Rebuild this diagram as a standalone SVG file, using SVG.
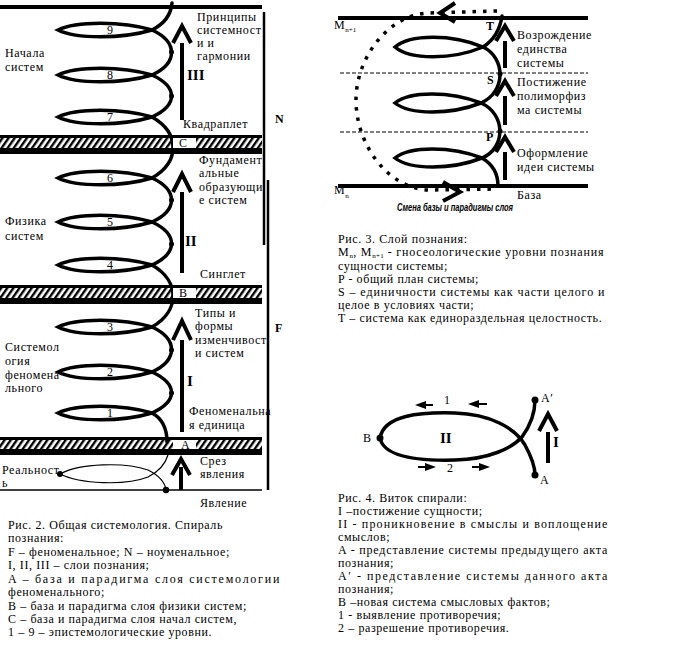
<svg xmlns="http://www.w3.org/2000/svg" width="679" height="649" viewBox="0 0 679 649">
<defs>
<style>
.s{fill:none;stroke:#000;stroke-width:3.5;stroke-linecap:round}
.thin{fill:none;stroke:#000;stroke-width:1.2}
.ln{stroke:#000;fill:none}
.ar{fill:none;stroke:#000;stroke-width:4}
.t{font-family:"Liberation Serif","Times New Roman",serif;font-size:12px;letter-spacing:0.6px;fill:#000}
.b{font-family:"Liberation Serif",serif;font-weight:bold;font-size:15px;fill:#000}
.lb{font-family:"Liberation Serif",serif;font-weight:bold;font-size:12px;fill:#000}
.n{font-family:"Liberation Serif",serif;font-size:12px;fill:#000;text-anchor:middle}
.dash{stroke:#000;stroke-width:1;stroke-dasharray:4 2}
.dots{fill:none;stroke:#000;stroke-width:3.5;stroke-dasharray:3.5 7}
</style>
<pattern id="hatch" width="5" height="5" patternUnits="userSpaceOnUse" patternTransform="rotate(35)">
<rect width="2.4" height="5" fill="#000"/>
</pattern>
</defs>

<!-- ===== Figure 2 ===== -->
<g id="fig2-frame">
<line class="ln" x1="0" y1="7" x2="262" y2="7" stroke-width="4"/>
<line class="ln" x1="0" y1="490" x2="262" y2="490" stroke-width="1.5"/>
<line class="ln" x1="264" y1="12" x2="264" y2="245" stroke-width="2.5"/>
<line class="ln" x1="268" y1="180" x2="268" y2="490" stroke-width="2.5"/>
<text class="lb" x="275" y="123">N</text>
<text class="lb" x="275" y="332">F</text>
</g>

<g id="spiral2">
<path class="s" d="M152,30 C164,24 171,14 172,3"/>
<path class="s" d="M152,75 C178,63 178,42 152,30"/>
<path class="s" d="M152,117 C178,105 178,87 152,75"/>
<path class="s" d="M152,178 C180,162 180,133 152,117"/>
<path class="s" d="M152,222 C178,210 178,190 152,178"/>
<path class="s" d="M152,265 C178,253 178,234 152,222"/>
<path class="s" d="M152,327 C180,311 180,281 152,265"/>
<path class="s" d="M152,372 C178,360 178,339 152,327"/>
<path class="s" d="M152,413 C178,401 178,384 152,372"/>
<path class="s" d="M152,413 C163,419 167,429 167,442"/>
<g fill="#000">
<circle cx="171.5" cy="52" r="2.5"/><circle cx="171.5" cy="96" r="2.5"/>
<circle cx="171.5" cy="200" r="2.5"/><circle cx="171.5" cy="244" r="2.5"/>
<circle cx="171.5" cy="350" r="2.5"/><circle cx="171.5" cy="393" r="2.5"/>
</g>
</g>

<g id="level9"><path class="s" d="M152,30 C122,21 76,21 58,30 C76,39 122,39 152,30"/><text class="n" x="110" y="34">9</text></g>
<g id="level8"><path class="s" d="M152,75 C122,66 76,66 58,75 C76,84 122,84 152,75"/><text class="n" x="110" y="79">8</text></g>
<g id="level7"><path class="s" d="M152,117 C122,108 76,108 58,117 C76,126 122,126 152,117"/><text class="n" x="110" y="121">7</text></g>
<g id="level6"><path class="s" d="M152,178 C122,169 76,169 58,178 C76,187 122,187 152,178"/><text class="n" x="110" y="182">6</text></g>
<g id="level5"><path class="s" d="M152,222 C122,213 76,213 58,222 C76,231 122,231 152,222"/><text class="n" x="110" y="226">5</text></g>
<g id="level4"><path class="s" d="M152,265 C122,256 76,256 58,265 C76,274 122,274 152,265"/><text class="n" x="110" y="269">4</text></g>
<g id="level3"><path class="s" d="M152,327 C122,318 76,318 58,327 C76,336 122,336 152,327"/><text class="n" x="110" y="331">3</text></g>
<g id="level2"><path class="s" d="M152,372 C122,363 76,363 58,372 C76,381 122,381 152,372"/><text class="n" x="110" y="376">2</text></g>
<g id="level1"><path class="s" d="M152,413 C122,404 76,404 58,413 C76,422 122,422 152,413"/><text class="n" x="110" y="417">1</text></g>

<g id="reality">
<path class="thin" d="M168,455 C165,465 158,472 148,477 C125,486 80,484 60,474"/>
<path class="thin" d="M60,474 C80,463 125,462 148,470 C158,475 165,482 166,490"/>
<circle cx="60" cy="474" r="3" fill="#000"/>
<circle cx="166" cy="490" r="3.2" fill="#000"/>
</g>

<g id="bandC">
<rect x="0" y="135" width="262" height="3" fill="#000"/>
<rect x="0" y="138" width="262" height="10" fill="url(#hatch)"/>
<rect x="173" y="138" width="23" height="10" fill="#fff"/>
<rect x="0" y="148" width="262" height="6" fill="#000"/>
<text class="t" x="179" y="147">C</text>
</g>
<g id="bandB">
<rect x="0" y="285" width="262" height="3" fill="#000"/>
<rect x="0" y="288" width="262" height="10" fill="url(#hatch)"/>
<rect x="173" y="288" width="23" height="10" fill="#fff"/>
<rect x="0" y="298" width="262" height="6" fill="#000"/>
<text class="t" x="179" y="297">B</text>
</g>
<g id="bandA">
<rect x="0" y="437" width="262" height="3" fill="#000"/>
<rect x="0" y="440" width="262" height="10" fill="url(#hatch)"/>
<rect x="173" y="440" width="23" height="10" fill="#fff"/>
<rect x="0" y="449" width="262" height="6" fill="#000"/>
<text class="t" x="181" y="449">A</text>
</g>

<g id="arrows2">
<line class="ar" x1="182" y1="43" x2="182" y2="120"/><polyline class="ar" points="173,43 182,26 191,43"/>
<line class="ar" x1="182" y1="192" x2="182" y2="273"/><polyline class="ar" points="173,192 182,174 191,192"/>
<line class="ar" x1="182" y1="340" x2="182" y2="432"/><polyline class="ar" points="173,340 182,321 191,340"/>
<line class="ar" x1="181" y1="467" x2="181" y2="490"/><polyline class="ar" points="172,475 181,459 190,475"/>
<text class="b" x="187" y="80">III</text>
<text class="b" x="185" y="246">II</text>
<text class="b" x="187" y="386">I</text>
</g>

<g id="labels2">
<text class="t" x="197" y="21">Принципы</text>
<text class="t" x="197" y="34">системност</text>
<text class="t" x="197" y="47">и и</text>
<text class="t" x="197" y="60">гармонии</text>
<text class="t" x="183" y="128">Квадраплет</text>
<text class="t" x="199" y="164">Фундамент</text>
<text class="t" x="199" y="177">альные</text>
<text class="t" x="199" y="191">образующи</text>
<text class="t" x="199" y="204">е систем</text>
<text class="t" x="200" y="278">Синглет</text>
<text class="t" x="195" y="317">Типы и</text>
<text class="t" x="195" y="330">формы</text>
<text class="t" x="195" y="344">изменчивост</text>
<text class="t" x="195" y="357">и систем</text>
<text class="t" x="189" y="415">Феноменальна</text>
<text class="t" x="189" y="429">я единица</text>
<text class="t" x="200" y="465">Срез</text>
<text class="t" x="200" y="478">явления</text>
<text class="t" x="200" y="507">Явление</text>
<text class="t" x="5" y="57">Начала</text>
<text class="t" x="5" y="71">систем</text>
<text class="t" x="5" y="225">Физика</text>
<text class="t" x="5" y="240">систем</text>
<text class="t" x="5" y="351">Системол</text>
<text class="t" x="5" y="365">огия</text>
<text class="t" x="5" y="379">феномена</text>
<text class="t" x="5" y="392">льного</text>
<text class="t" x="2" y="474">Реальност</text>
<text class="t" x="2" y="487">ь</text>
</g>

<g id="caption2">
<text class="t" x="8" y="529">Рис. 2. Общая системология. Спираль</text>
<text class="t" x="8" y="542">познания:</text>
<text class="t" x="8" y="556">F – феноменальное; N – ноуменальное;</text>
<text class="t" x="8" y="569">I, II, III – слои познания;</text>
<text class="t" x="8" y="583" textLength="272" lengthAdjust="spacing">A – база и парадигма слоя системологии</text>
<text class="t" x="8" y="596">феноменального;</text>
<text class="t" x="8" y="610">B – база и парадигма слоя физики систем;</text>
<text class="t" x="8" y="623">C – база и парадигма слоя начал систем,</text>
<text class="t" x="8" y="636">1 – 9 – эпистемологические уровни.</text>
</g>

<!-- ===== Figure 3 ===== -->
<g id="fig3-frame">
<line class="ln" x1="338" y1="18" x2="588" y2="18" stroke-width="4"/>
<line class="ln" x1="338" y1="186" x2="588" y2="186" stroke-width="4"/>
<line class="dash" x1="340" y1="73" x2="588" y2="73"/>
<line class="dash" x1="340" y1="132" x2="588" y2="132"/>
<text class="t" x="334" y="29">M<tspan font-size="7" dy="3" letter-spacing="0">n+1</tspan></text>
<text class="t" x="334" y="194">M<tspan font-size="7" dy="4" letter-spacing="0">n</tspan></text>
</g>

<g id="cycle3">
<path class="dots" d="M497,11 L428,13 C388,15 356,58 356,100 C356,145 388,188 428,190 L497,189"/>
<polyline class="ar" stroke-width="3" points="455,3 440,13 455,22"/>
<polyline class="ar" stroke-width="3" points="443,182 460,192 443,201"/>
<text x="455" y="211" font-family="Liberation Sans,sans-serif" font-size="10" font-style="italic" font-weight="bold" text-anchor="middle" textLength="116" lengthAdjust="spacingAndGlyphs">Смена базы и парадигмы слоя</text>
</g>

<g id="spiral3">
<path class="s" d="M483,47 C494,40 500,30 502,16"/>
<path class="s" d="M483,47 C506,58 506,92 481,103"/>
<path class="s" d="M481,103 C506,114 506,148 482,158"/>
<path class="s" d="M482,158 C494,165 498,175 498,186"/>
<path class="s" d="M483,47 C452,34 410,34 395,47 C410,60 452,60 483,47"/>
<path class="s" d="M481,103 C450,91 410,91 395,103 C410,115 450,115 481,103"/>
<path class="s" d="M482,158 C451,146 410,146 395,158 C410,170 451,170 482,158"/>
<circle cx="500" cy="74" r="2.5"/><circle cx="500" cy="131" r="2.5"/>
<text class="lb" x="486" y="30" font-size="11">T</text>
<text class="lb" x="487" y="84" font-size="11">S</text>
<text class="lb" x="486" y="141" font-size="11">P</text>
</g>

<g id="arrows3">
<line class="ar" x1="505" y1="41" x2="505" y2="68"/><polyline class="ar" points="496,41 505,26 514,41"/>
<line class="ar" x1="505" y1="96" x2="505" y2="125"/><polyline class="ar" points="496,96 505,81 514,96"/>
<line class="ar" x1="505" y1="152" x2="505" y2="180"/><polyline class="ar" points="496,152 505,137 514,152"/>
</g>

<g id="labels3">
<text class="t" x="517" y="39">Возрождение</text>
<text class="t" x="517" y="53">единства</text>
<text class="t" x="517" y="67">системы</text>
<text class="t" x="517" y="86">Постижение</text>
<text class="t" x="517" y="100">полиморфиз</text>
<text class="t" x="517" y="114">ма системы</text>
<text class="t" x="517" y="157">Оформление</text>
<text class="t" x="517" y="171">идеи системы</text>
<text class="t" x="517" y="199">База</text>
</g>

<g id="caption3">
<text class="t" x="338" y="243">Рис. 3. Слой познания:</text>
<text class="t" x="338" y="256" textLength="266" lengthAdjust="spacing">M<tspan font-size="7" dy="2" letter-spacing="0">n</tspan><tspan dy="-2">, M</tspan><tspan font-size="7" dy="2" letter-spacing="0">n+1</tspan><tspan dy="-2"> - гносеологические уровни познания</tspan></text>
<text class="t" x="338" y="270">сущности системы;</text>
<text class="t" x="338" y="283">P - общий план системы;</text>
<text class="t" x="338" y="296" textLength="267" lengthAdjust="spacing">S – единичности системы как части целого и</text>
<text class="t" x="338" y="309">целое в условиях части;</text>
<text class="t" x="338" y="322">T – система как единораздельная целостность.</text>
</g>

<!-- ===== Figure 4 ===== -->
<g id="fig4">
<path class="s" d="M380,438 C384,415 420,412 455,413 C490,414 515,428 525,445 C531,456 535,465 535,475"/>
<path class="s" d="M380,438 C384,458 420,461 455,460 C490,459 512,448 522,437 C530,426 535,412 535,400"/>
<circle cx="380" cy="438" r="3.5"/>
<circle cx="535" cy="400" r="3.5"/>
<circle cx="535" cy="475" r="3.5"/>
<text class="t" x="363" y="442">B</text>
<text class="t" x="541" y="402">A′</text>
<text class="t" x="540" y="484">A</text>
<text class="b" x="440" y="443">II</text>
<text class="t" x="444" y="404">1</text>
<text class="t" x="447" y="472">2</text>
<g stroke="#000" stroke-width="2" fill="#000">
<line x1="424" y1="405" x2="433" y2="405"/><polygon points="418,405 425,402.5 425,407.5"/>
<line x1="477" y1="404" x2="487" y2="404"/><polygon points="471,404 478,401.5 478,406.5"/>
<line x1="418" y1="467" x2="427" y2="467"/><polygon points="433,467 426,464.5 426,469.5"/>
<line x1="472" y1="467" x2="481" y2="467"/><polygon points="487,467 480,464.5 480,469.5"/>
</g>
<line class="ar" x1="548" y1="432" x2="548" y2="463"/><polyline class="ar" points="539,431 548,414 557,431"/>
<text class="b" x="553" y="447">I</text>
</g>

<g id="caption4">
<text class="t" x="338" y="502">Рис. 4. Виток спирали:</text>
<text class="t" x="338" y="515">I –постижение сущности;</text>
<text class="t" x="338" y="528" textLength="270" lengthAdjust="spacing">II - проникновение в смыслы и воплощение</text>
<text class="t" x="338" y="541">смыслов;</text>
<text class="t" x="338" y="554" textLength="270" lengthAdjust="spacing">A - представление системы предыдущего акта</text>
<text class="t" x="338" y="567">познания;</text>
<text class="t" x="338" y="580" textLength="270" lengthAdjust="spacing">A′ - представление системы данного акта</text>
<text class="t" x="338" y="593">познания;</text>
<text class="t" x="338" y="606">B –новая система смысловых фактов;</text>
<text class="t" x="338" y="619">1 - выявление противоречия;</text>
<text class="t" x="338" y="632">2 – разрешение противоречия.</text>
</g>
</svg>
